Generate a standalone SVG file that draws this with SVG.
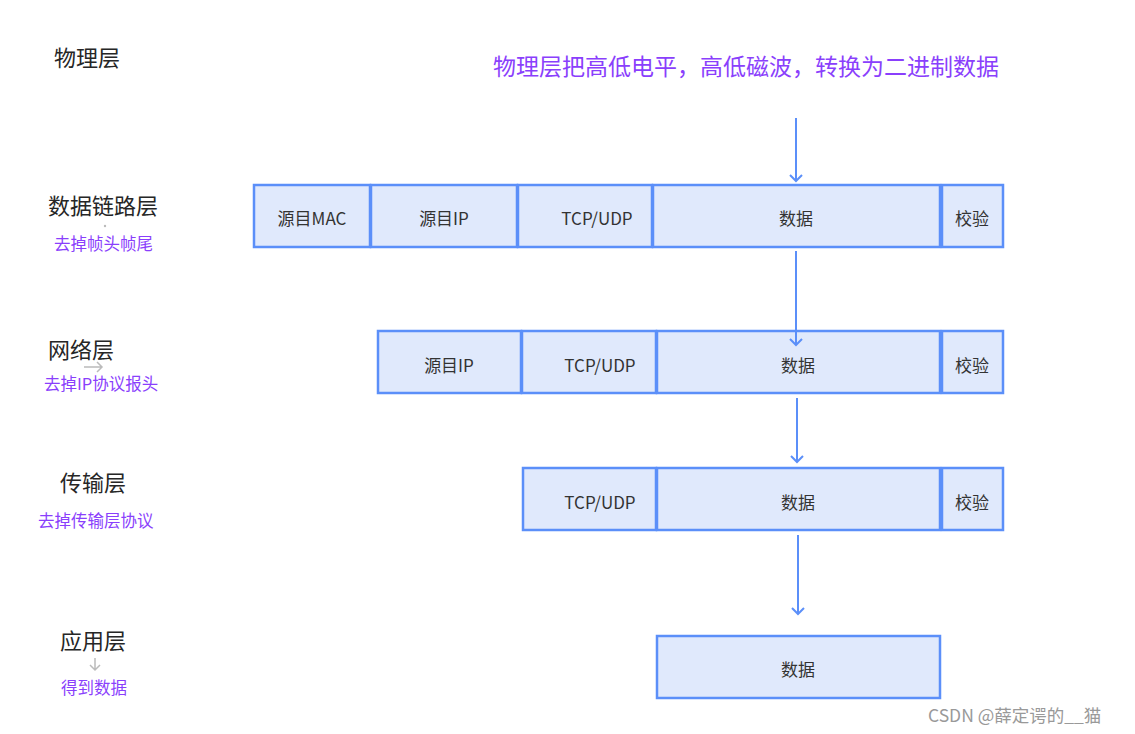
<svg xmlns="http://www.w3.org/2000/svg" width="1135" height="734" viewBox="0 0 1135 734">
<style>
.c{fill:#e0e9fc;stroke:#5b8ff9;stroke-width:2.5}
.t{font-family:"Noto Sans CJK SC","Noto Sans",sans-serif;font-size:17px;fill:#333;text-anchor:middle;dominant-baseline:central}
.h{font-family:"Noto Sans CJK SC",sans-serif;font-size:22px;fill:#262626}
.p{font-family:"Noto Sans CJK SC",sans-serif;font-size:16.5px;fill:#8a3ffc}
.a{stroke:#5b8ff9;stroke-width:2;fill:none}
.g{stroke:#bbb;stroke-width:1.5;fill:none}
</style>
<rect width="1135" height="734" fill="#fff"/>
<g id="labels">
<text class="h" x="54" y="66">物理层</text>
<text x="493" y="75" font-family="Noto Sans CJK SC,sans-serif" font-size="23" fill="#8a3ffc">物理层把高低电平，高低磁波，转换为二进制数据</text>
<text class="h" x="48" y="214">数据链路层</text>
<circle cx="105" cy="226" r="1.2" fill="#bbb"/>
<text class="p" x="54" y="250">去掉帧头帧尾</text>
<text class="h" x="48" y="358">网络层</text>
<path class="g" d="M84 367H102M97 362L102 367L97 372"/>
<text class="p" x="44" y="390">去掉IP协议报头</text>
<text class="h" x="60" y="491">传输层</text>
<text class="p" x="38" y="527">去掉传输层协议</text>
<text class="h" x="60" y="649">应用层</text>
<path class="g" d="M95 658V670M90 665L95 670L100 665"/>
<text class="p" x="61" y="694">得到数据</text>
</g>
<g id="row1">
<rect class="c" x="254" y="185" width="116" height="62"/><text class="t" x="312" y="217">源目MAC</text>
<rect class="c" x="371" y="185" width="146" height="62"/><text class="t" x="444" y="217">源目IP</text>
<rect class="c" x="518" y="185" width="134" height="62"/><text class="t" x="597" y="217">TCP/UDP</text>
<rect class="c" x="653" y="185" width="287" height="62"/><text class="t" x="796" y="217">数据</text>
<rect class="c" x="942" y="185" width="61" height="62"/><text class="t" x="972" y="217">校验</text>
</g>
<g id="row2">
<rect class="c" x="378" y="331" width="143" height="62"/><text class="t" x="449" y="364">源目IP</text>
<rect class="c" x="522" y="331" width="134" height="62"/><text class="t" x="600" y="364">TCP/UDP</text>
<rect class="c" x="657" y="331" width="283" height="62"/><text class="t" x="798" y="364">数据</text>
<rect class="c" x="942" y="331" width="61" height="62"/><text class="t" x="972" y="364">校验</text>
</g>
<g id="row3">
<rect class="c" x="523" y="468" width="133" height="62"/><text class="t" x="600" y="501">TCP/UDP</text>
<rect class="c" x="657" y="468" width="283" height="62"/><text class="t" x="798" y="501">数据</text>
<rect class="c" x="942" y="468" width="61" height="62"/><text class="t" x="972" y="501">校验</text>
</g>
<g id="row4">
<rect class="c" x="657" y="636" width="283" height="62"/><text class="t" x="798" y="668">数据</text>
</g>
<g id="connectors">
<path class="a" d="M796 118V181M790 175L796 181L802 175"/>
<path class="a" d="M796 251V345M790 339L796 345L802 339"/>
<path class="a" d="M797 398V462M791 456L797 462L803 456"/>
<path class="a" d="M798 535V614M792 608L798 614L804 608"/>
</g>
<text x="928" y="722" font-family="Noto Sans CJK SC,sans-serif" font-size="17.5" fill="#999">CSDN @薛定谔的__猫</text>
</svg>
